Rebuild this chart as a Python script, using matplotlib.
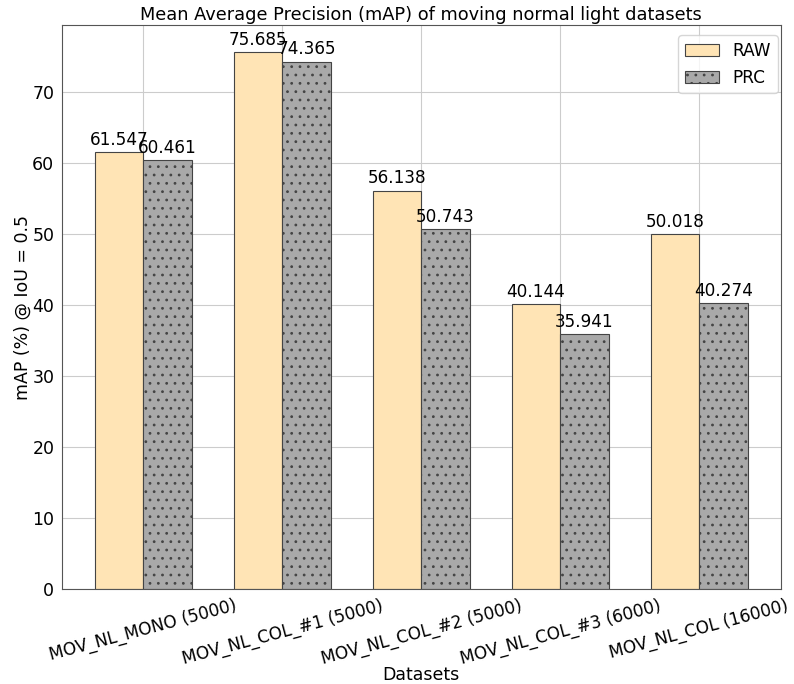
import numpy as np
import matplotlib
matplotlib.use("Agg")
import matplotlib.pyplot as plt
import seaborn as sns

datasets = ["MOV_NL_MONO (5000)", "MOV_NL_COL_#1 (5000)", "MOV_NL_COL_#2 (5000)",
            "MOV_NL_COL_#3 (6000)", "MOV_NL_COL (16000)"]
raw_map = [61.547, 75.685, 56.138, 40.144, 50.018]
prc_map = [60.461, 74.365, 50.743, 35.941, 40.274]

sns.set_style("whitegrid")
plt.rcParams['font.family'] = ['DejaVu Sans']
plt.rcParams.update({
    'hatch.color': '#222222',
    'hatch.linewidth': 0.8,
    'text.color': 'black',
    'axes.labelcolor': 'black',
    'xtick.color': 'black',
    'ytick.color': 'black',
})

fig, ax = plt.subplots(figsize=(7.94, 6.84), dpi=100)
x = np.arange(len(datasets))
w = 0.35

b1 = ax.bar(x - w / 2, raw_map, w, label="RAW", color="#FFE4B5",
            edgecolor="#444444", linewidth=0.8)
b2 = ax.bar(x + w / 2, prc_map, w, label="PRC", color="#A9A9A9",
            edgecolor="#444444", linewidth=0.8, hatch="..")

for bars in (b1, b2):
    for bar in bars:
        h = bar.get_height()
        ax.annotate(f"{h:.3f}", (bar.get_x() + bar.get_width() / 2, h),
                    xytext=(0, 2.5), textcoords="offset points",
                    ha="center", va="bottom", fontsize=12.2)

ax.set_title("Mean Average Precision (mAP) of moving normal light datasets", fontsize=12.8, pad=4)
ax.set_xlabel("Datasets", fontsize=12.5)
ax.xaxis.set_label_coords(0.5, -0.136)
ax.set_ylabel("mAP (%) @ IoU = 0.5", fontsize=12.5)
ax.yaxis.set_label_coords(-0.042, 0.5)
ax.set_xticks(x)
ax.set_xticklabels(datasets, rotation=15, ha="center", fontsize=12.2)
ax.tick_params(axis="y", labelsize=12.5)
ax.tick_params(axis="both", length=3.5, width=0.8, color="#555555", pad=2)
ax.set_ylim(0, max(raw_map) * 1.05)
for s in ax.spines.values():
    s.set_color("#555555")
    s.set_linewidth(0.8)
ax.legend(fontsize=12.2, loc="upper right", borderaxespad=0,
          bbox_to_anchor=(0.996, 0.982))

fig.subplots_adjust(left=0.078, right=0.983, top=0.963, bottom=0.139)
fig.savefig("out.png", dpi=100)
